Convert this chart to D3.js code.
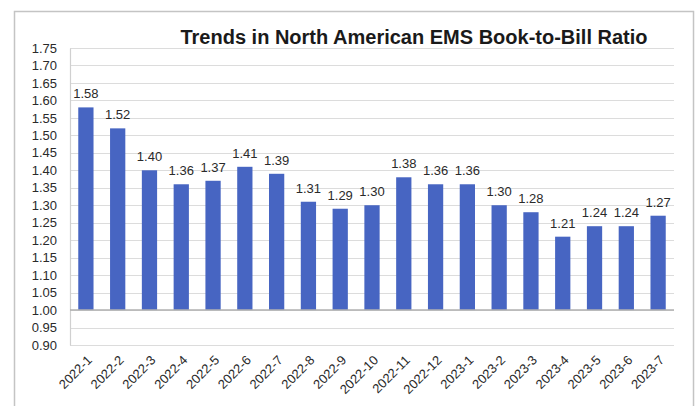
<!DOCTYPE html>
<html>
<head>
<meta charset="utf-8">
<script src="https://cdn.jsdelivr.net/npm/d3@7"></script>
<style>
  body { margin: 0; background: #fff; }
  svg { display: block; font-family: "Liberation Sans", Arial, sans-serif; }
</style>
</head>
<body>
<div id="chart"></div>
<script>
// chart data
var months = ["2022-1", "2022-2", "2022-3", "2022-4", "2022-5", "2022-6", "2022-7", "2022-8",
  "2022-9", "2022-10", "2022-11", "2022-12", "2023-1", "2023-2", "2023-3", "2023-4",
  "2023-5", "2023-6", "2023-7"];
var ratios = [1.58, 1.52, 1.40, 1.36, 1.37, 1.41, 1.39, 1.31, 1.29, 1.30, 1.38, 1.36, 1.36,
  1.30, 1.28, 1.21, 1.24, 1.24, 1.27];
var yTicks = [0.90, 0.95, 1.00, 1.05, 1.10, 1.15, 1.20, 1.25, 1.30, 1.35, 1.40, 1.45, 1.50,
  1.55, 1.60, 1.65, 1.70, 1.75];
var baseline = 1.00;

var svgWidth = 696;
var svgHeight = 406;
var margin = { top: 48, right: 22, bottom: 61, left: 70 };
var chartWidth = svgWidth - margin.left - margin.right;
var chartHeight = svgHeight - margin.top - margin.bottom;

var svg = d3.select("#chart")
  .append("svg")
  .attr("width", svgWidth)
  .attr("height", svgHeight);

// outer frame
svg.append("rect")
  .attr("x", 14.5)
  .attr("y", 11.5)
  .attr("width", 679)
  .attr("height", 420)
  .attr("fill", "#fff")
  .attr("stroke", "#c4c4c4")
  .attr("stroke-width", 1.5);

// title
svg.append("text")
  .attr("x", 414)
  .attr("y", 44)
  .attr("text-anchor", "middle")
  .attr("font-size", "20px")
  .attr("font-weight", "bold")
  .attr("fill", "#1a1a1a")
  .text("Trends in North American EMS Book-to-Bill Ratio");

var chartGroup = svg.append("g")
  .attr("transform", `translate(${margin.left}, ${margin.top})`);

var xScale = d3.scaleBand()
  .domain(months)
  .range([0, chartWidth])
  .paddingInner(0.52)
  .paddingOuter(0.26);

var yScale = d3.scaleLinear()
  .domain([0.90, 1.75])
  .range([chartHeight, 0]);

// horizontal gridlines
chartGroup.append("g")
  .selectAll("line")
  .data(yTicks)
  .enter()
  .append("line")
  .attr("x1", 0)
  .attr("x2", chartWidth)
  .attr("y1", d => Math.round(yScale(d)) + 0.5)
  .attr("y2", d => Math.round(yScale(d)) + 0.5)
  .attr("stroke", "#dcdcdc")
  .attr("stroke-width", 1.2);

// left axis with labels
var leftAxis = d3.axisLeft(yScale)
  .tickValues(yTicks)
  .tickFormat(d3.format(".2f"))
  .tickSize(0)
  .tickPadding(13);

var yAxisG = chartGroup.append("g").call(leftAxis);
yAxisG.select(".domain").attr("stroke", "#d0d0d0").attr("stroke-width", 1.2);
yAxisG.selectAll("text")
  .attr("font-size", "13px")
  .attr("fill", "#2a2a2a")
  .attr("font-family", "Liberation Sans, Arial, sans-serif");

// bars from the 1.00 baseline
chartGroup.selectAll("rect.bar")
  .data(ratios)
  .enter()
  .append("rect")
  .attr("class", "bar")
  .attr("x", (d, i) => xScale(months[i]))
  .attr("width", xScale.bandwidth())
  .attr("y", d => yScale(d))
  .attr("height", d => yScale(baseline) - yScale(d))
  .attr("fill", "#4765c2");

// baseline line
chartGroup.append("line")
  .attr("x1", 0)
  .attr("x2", chartWidth)
  .attr("y1", yScale(baseline))
  .attr("y2", yScale(baseline))
  .attr("stroke", "#b0b0b0")
  .attr("stroke-width", 1.5);

// value labels
chartGroup.selectAll("text.value")
  .data(ratios)
  .enter()
  .append("text")
  .attr("class", "value")
  .attr("x", (d, i) => xScale(months[i]) + xScale.bandwidth() / 2)
  .attr("y", d => yScale(d) - 9)
  .attr("text-anchor", "middle")
  .attr("font-size", "13px")
  .attr("fill", "#2a2a2a")
  .text(d => d3.format(".2f")(d));

// bottom axis labels, rotated
var bottomAxis = d3.axisBottom(xScale).tickSize(0).tickPadding(0);
var xAxisG = chartGroup.append("g")
  .attr("transform", `translate(0, ${chartHeight})`)
  .call(bottomAxis);
xAxisG.select(".domain").remove();
xAxisG.selectAll("text")
  .attr("font-size", "13px")
  .attr("fill", "#2a2a2a")
  .attr("font-family", "Liberation Sans, Arial, sans-serif")
  .attr("text-anchor", "end")
  .attr("dy", "0")
  .attr("transform", "translate(7, 16) rotate(-45)");
</script>
</body>
</html>
